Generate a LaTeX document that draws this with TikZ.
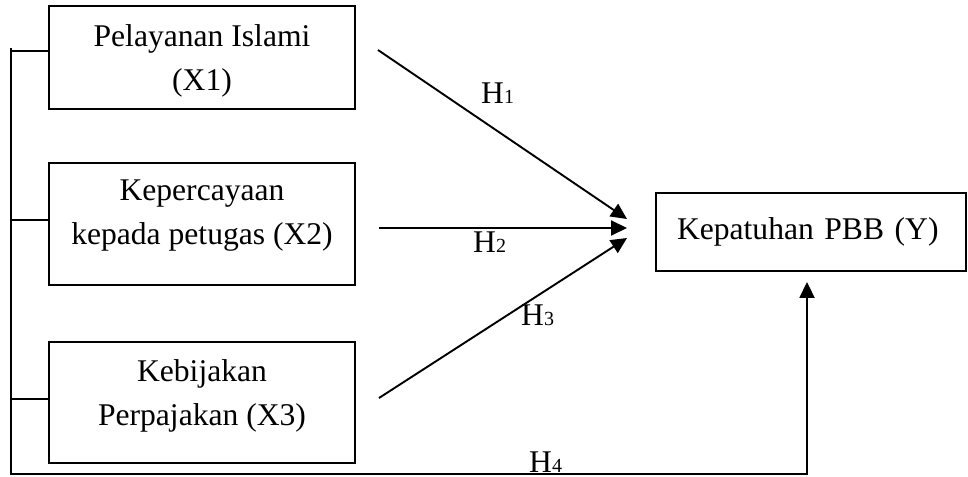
\documentclass[tikz,border=0pt]{standalone}
\usepackage{fontspec}
\setmainfont{Liberation Serif}
\usetikzlibrary{arrows.meta}
\tikzset{
  varbox/.style={draw, line width=1.9pt, inner sep=0pt, align=center,
    font=\fontsize{31.6}{44}\selectfont},
  hyplabel/.style={inner sep=0pt, anchor=base west, font=\fontsize{31.6}{38}\selectfont},
  link/.style={line width=1.9pt},
  arr/.style={line width=1.9pt, -{Triangle[length=16pt,width=15pt]}}
}
\newcommand{\hsub}[1]{H{\fontsize{20}{20}\selectfont #1}}
\begin{document}
\begin{tikzpicture}[x=1pt,y=-1pt]
\useasboundingbox (0,0) rectangle (968,476);
% boxes
\node[varbox, minimum width=306pt, minimum height=103pt] (X1) at (202,57.5)
  {\rule{0pt}{28.8pt}Pelayanan Islami\\(X1)};
\node[varbox, minimum width=306pt, minimum height=122pt] (X2) at (202,224)
  {Kepercayaan\\kepada petugas (X2)\rule[-22.9pt]{0pt}{0pt}};
\node[varbox, minimum width=306pt, minimum height=121pt] (X3) at (202,402.5)
  {Kebijakan\\Perpajakan (X3)\rule[-20.9pt]{0pt}{0pt}};
\node[varbox, minimum width=310pt, minimum height=78pt, text width=268pt,
  inner xsep=21pt, align=left] (Y) at (811,232) {Kepatuhan PBB (Y)};
% arrow end points
\coordinate (s1) at (378,50);  \coordinate (t1) at (627,219);
\coordinate (s2) at (379,228); \coordinate (t2) at (627,228);
\coordinate (s3) at (379,398); \coordinate (t3) at (627,238);
\draw[arr] (s1) -- (t1);
\draw[arr] (s2) -- (t2);
\draw[arr] (s3) -- (t3);
% bracket
\coordinate (top) at (11,48);
\coordinate (corner) at (11,474);
\coordinate (b1) at (X1.west |- 0,51);
\coordinate (b2) at (X2.west |- 0,220);
\coordinate (b3) at (X3.west |- 0,399);
\coordinate (c4) at (807,474);
\draw[link] (b1) -- (b1 -| top);
\draw[link] (b2) -- (b2 -| top);
\draw[link] (b3) -- (b3 -| top);
\draw[arr, shorten >=10pt] (top) -- (corner) -- (c4) -- (Y.south -| c4);
% labels
\node[hyplabel] (h1) at (481,104) {\hsub{1}};
\node[hyplabel] (h2) at (473,252) {\hsub{2}};
\node[hyplabel] (h3) at (521,325) {\hsub{3}};
\node[hyplabel] (h4) at (529,472.5) {\hsub{4}};
\end{tikzpicture}
\end{document}
